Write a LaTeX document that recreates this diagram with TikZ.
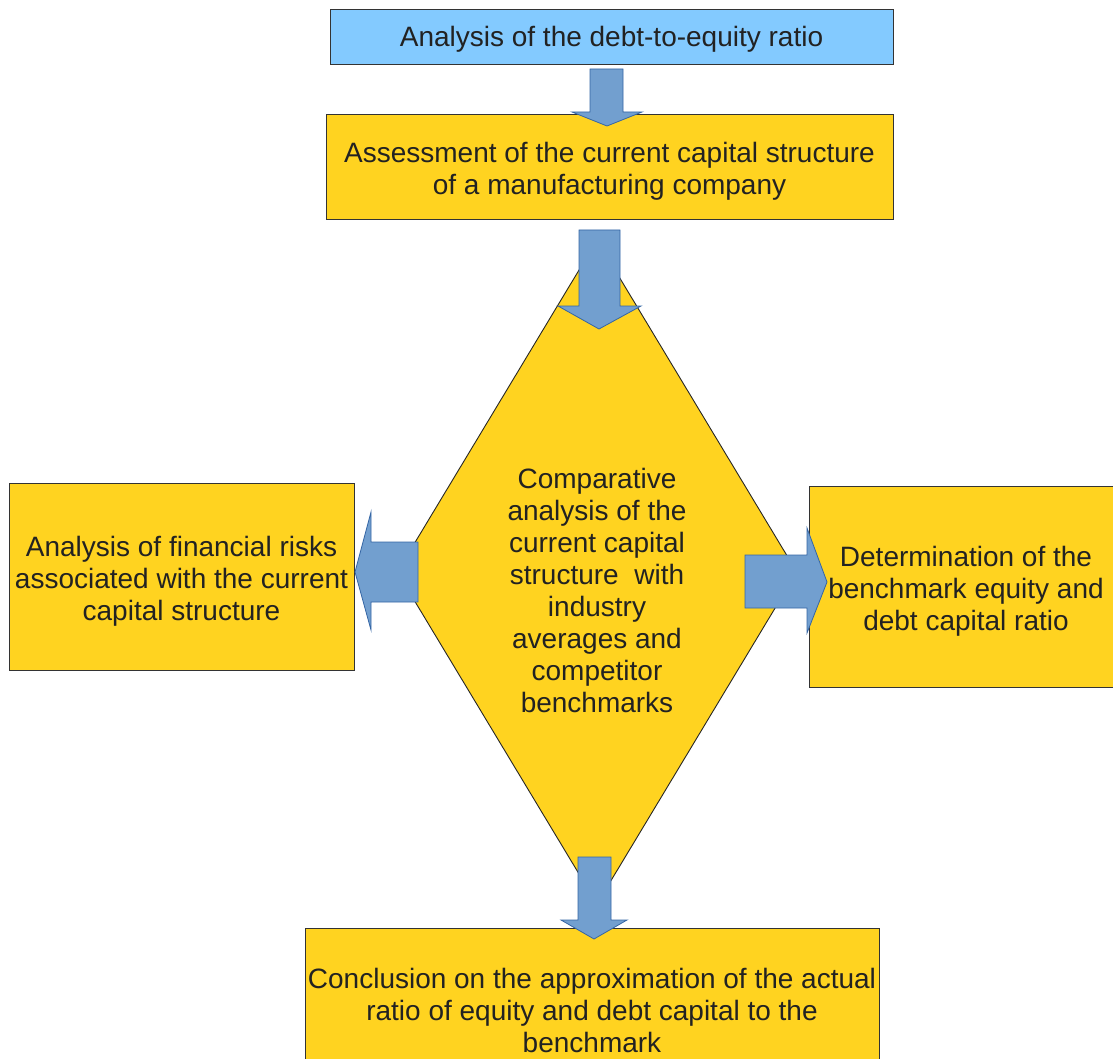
\documentclass[tikz,border=0pt]{standalone}
\usepackage{fontspec}
\setmainfont{Liberation Sans}
\usetikzlibrary{shapes.geometric}
\definecolor{boxyellow}{HTML}{FFD320}
\definecolor{boxblue}{HTML}{83CAFF}
\definecolor{arrowfill}{HTML}{729FCF}
\definecolor{arrowline}{HTML}{3465A4}
\definecolor{inktext}{HTML}{222222}
\tikzset{
  stagebox/.style={draw=black!80, line width=0.9pt, fill=boxyellow, inner sep=0pt},
  titlebox/.style={stagebox, fill=boxblue},
  decision/.style={diamond, draw=black!85, line width=0.9pt, fill=boxyellow,
    inner sep=0pt, aspect=0.6},
  bodytext/.style={text=inktext, align=center, inner sep=0pt, font=\fontsize{28}{32}\selectfont},
  blockarrow/.style={fill=arrowfill, draw=arrowline, line width=0.8pt, line join=miter}
}
\begin{document}
\begin{tikzpicture}[x=1pt, y=-1pt]
\useasboundingbox (0,0) rectangle (1113,1059);

% process boxes and their captions
\node[titlebox, minimum width=563pt, minimum height=55pt] (ratio) at (611.5,36.5) {};
\node[bodytext] (ratiotext) at (611.5,39.5) {Analysis of the debt-to-equity ratio};

\node[stagebox, minimum width=567pt, minimum height=105pt] (assess) at (609.5,166.5) {};
\node[bodytext] (assesstext) at (609.5,171)
  {Assessment of the current capital structure\\of a manufacturing company};

% central comparison step
\node[decision, minimum width=400pt, minimum height=664pt] (compare) at (597,572) {};
\node[bodytext] (comparetext) at (597,590)
  {Comparative\\analysis of the\\current capital\\structure\ \ with\\industry\\averages and\\competitor\\benchmarks};

\node[stagebox, minimum width=345pt, minimum height=187pt] (risks) at (181.5,576.5) {};
\node[bodytext] (riskstext) at (181.5,581)
  {Analysis of financial risks\\associated with the current\\capital structure};

\node[stagebox, minimum width=314pt, minimum height=201pt] (bench) at (966,586.5) {};
\node[bodytext] (benchtext) at (966,591)
  {Determination of the\\benchmark equity and\\debt capital ratio};

\node[stagebox, minimum width=574pt, minimum height=166pt] (concl) at (592,1011) {};
\node[bodytext] (concltext) at (592,1010)
  {Conclusion on the approximation of the actual\\ratio of equity and debt capital to the\\benchmark};

% block arrows between the steps
\draw[blockarrow] (590,69) -- (623,69) -- (623,112) -- (642,112) -- (607,126)
  -- (572,112) -- (590,112) -- cycle;
\draw[blockarrow] (579,230) -- (620,230) -- (620,306) -- (641,306) -- (599,329)
  -- (558,306) -- (579,306) -- cycle;
\draw[blockarrow] (578,857) -- (611,857) -- (611,920) -- (627,920) -- (594,939)
  -- (561,920) -- (578,920) -- cycle;
\draw[blockarrow] (418,542) -- (418,602) -- (371,602) -- (371,630) -- (355,572)
  -- (371,512) -- (371,542) -- cycle;
\draw[blockarrow] (745,555) -- (807,555) -- (807,528) -- (827,582) -- (807,633)
  -- (807,608) -- (745,608) -- cycle;
\end{tikzpicture}
\end{document}
